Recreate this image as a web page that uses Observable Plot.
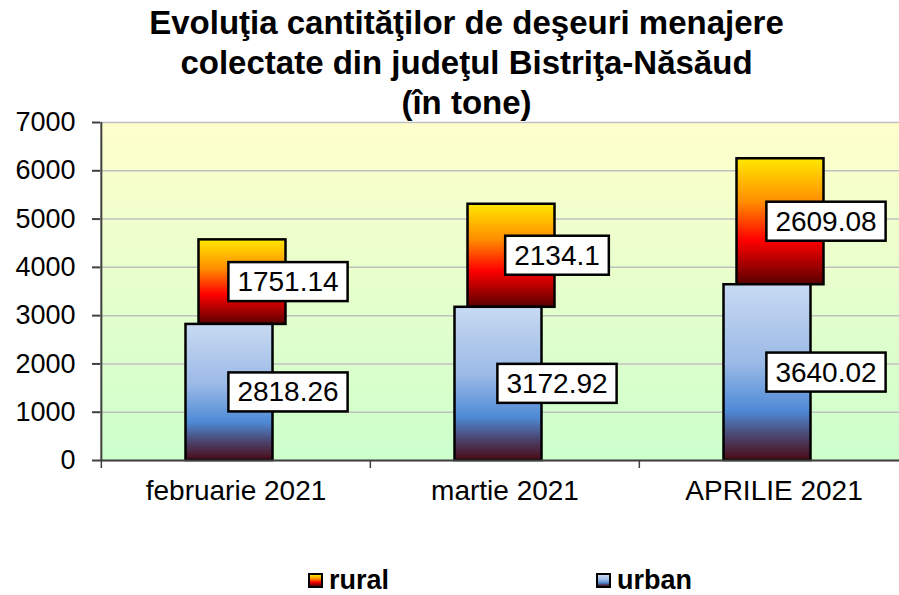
<!DOCTYPE html>
<html>
<head>
<meta charset="utf-8">
<script src="https://cdn.jsdelivr.net/npm/d3@7"></script>
<script src="https://cdn.jsdelivr.net/npm/@observablehq/plot@0.6"></script>
<style>
  html, body { margin: 0; padding: 0; background: #fff; }
  body { width: 899px; height: 595px; overflow: hidden; position: relative; font-family: "Liberation Sans", Arial, sans-serif; }
  #title { position: absolute; left: 34px; width: 865px; top: 3px; text-align: center; font-weight: bold; font-size: 33px; line-height: 40px; color: #000; z-index: 2; }
  #chart { position: absolute; left: 0; top: 0; width: 909px; }
  #chart svg { max-width: none !important; }
  #legend { position: absolute; top: 565px; left: 0; width: 899px; height: 30px; font-weight: bold; font-size: 27px; color: #000; }
  .item { position: absolute; top: 0; display: flex; align-items: center; }
  .sw { width: 11px; height: 11px; border: 2px solid #000; margin-right: 6px; }
</style>
</head>
<body>
<div id="title">Evoluţia cantităţilor de deşeuri menajere<br>colectate din judeţul Bistriţa-Năsăud<br>(în tone)</div>
<div id="chart"></div>
<div id="legend">
  <div class="item" style="left:308px"><div class="sw" style="background:linear-gradient(#FFE800,#FF8C00 35%,#FF0000 65%,#5A0000)"></div><span>rural</span></div>
  <div class="item" style="left:596px"><div class="sw" style="background:linear-gradient(#C8DAF2,#9AB9E6 45%,#4E8AD6 72%,#4A0A14)"></div><span>urban</span></div>
</div>
<script>
const months = ["februarie 2021", "martie 2021", "APRILIE 2021"];
const urban = [2818.26, 3172.92, 3640.02];
const rural = [1751.14, 2134.1, 2609.08];
const yTicks = [0, 1000, 2000, 3000, 4000, 5000, 6000, 7000];

const data = months.map((m, i) => ({month: m, urban: urban[i], rural: rural[i]}));
const labels = [];
data.forEach(d => {
  labels.push({month: d.month, mid: d.urban / 2, text: String(d.urban)});
  labels.push({month: d.month, mid: d.urban + d.rural / 2, text: String(d.rural)});
});

const W = 909, ML = 100, MR = 1;
const step = (W - ML - MR) / months.length;

const chart = Plot.plot({
  width: W, height: 530,
  marginTop: 122, marginBottom: 70, marginLeft: ML, marginRight: MR,
  style: {fontFamily: "'Liberation Sans', Arial, sans-serif", background: "transparent", color: "#000", overflow: "visible", maxWidth: "none"},
  x: {domain: months, paddingInner: 0.677, paddingOuter: 0.3385, label: null},
  y: {domain: [0, 7000], label: null},
  marks: [
    Plot.frame({fill: "url(#bgGrad)", stroke: null}),
    Plot.gridY(yTicks, {stroke: "#c0c0c0", strokeOpacity: 1, strokeWidth: 1.5}),
    Plot.barY(data, {x: "month", y1: "urban", y2: d => d.urban + d.rural, dx: 6.5, fill: "url(#gradRural)", stroke: "#000", strokeWidth: 2.5}),
    Plot.barY(data, {x: "month", y1: 0, y2: "urban", dx: -6.5, fill: "url(#gradUrban)", stroke: "#000", strokeWidth: 2.5}),
    Plot.ruleY([0], {stroke: "#404040", strokeWidth: 2}),
    Plot.ruleX([months[0]], {dx: -step / 2, y1: 0, y2: 7000, stroke: "#404040", strokeWidth: 2}),
    Plot.axisY(yTicks, {tickSize: 8, tickPadding: 17, fontSize: 27, tickFormat: d => String(d), stroke: "#404040", strokeWidth: 2}),
    Plot.axisX({tickSize: 8, dx: -step / 2, tickFormat: () => "", stroke: "#404040", strokeWidth: 1.5}),
    Plot.axisX({tickSize: 0, tickPadding: 20, fontSize: 28}),
    Plot.text(labels, {x: "month", y: "mid", text: "text", dx: 52, fontSize: 28, fill: "#000"})
  ]
});

document.getElementById("chart").appendChild(chart);

const defs = d3.select(chart).insert("defs", ":first-child");
function grad(id, stops) {
  const g = defs.append("linearGradient").attr("id", id).attr("x1", 0).attr("y1", 0).attr("x2", 0).attr("y2", 1);
  stops.forEach(([o, c]) => g.append("stop").attr("offset", o).attr("stop-color", c));
}
grad("bgGrad", [[0, "#FFFFCC"], [1, "#CCFFCC"]]);
grad("gradUrban", [[0, "#C8DAF2"], [0.45, "#9AB9E6"], [0.72, "#4E8AD6"], [0.86, "#4B4670"], [1, "#4A0A14"]]);
grad("gradRural", [[0, "#FFE800"], [0.35, "#FF8C00"], [0.65, "#FF0000"], [1, "#5A0000"]]);

d3.select(chart).selectAll('g[aria-label="text"] text').each(function() {
  const b = this.getBBox();
  const padX = 9, padY = 5;
  d3.select(this.parentNode).insert("rect", () => this)
    .attr("transform", this.getAttribute("transform"))
    .attr("x", b.x - padX).attr("y", b.y - padY + 1)
    .attr("width", b.width + 2 * padX).attr("height", b.height + 2 * padY - 2)
    .attr("fill", "#fff").attr("stroke", "#000").attr("stroke-width", 2.5);
});
</script>
</body>
</html>
